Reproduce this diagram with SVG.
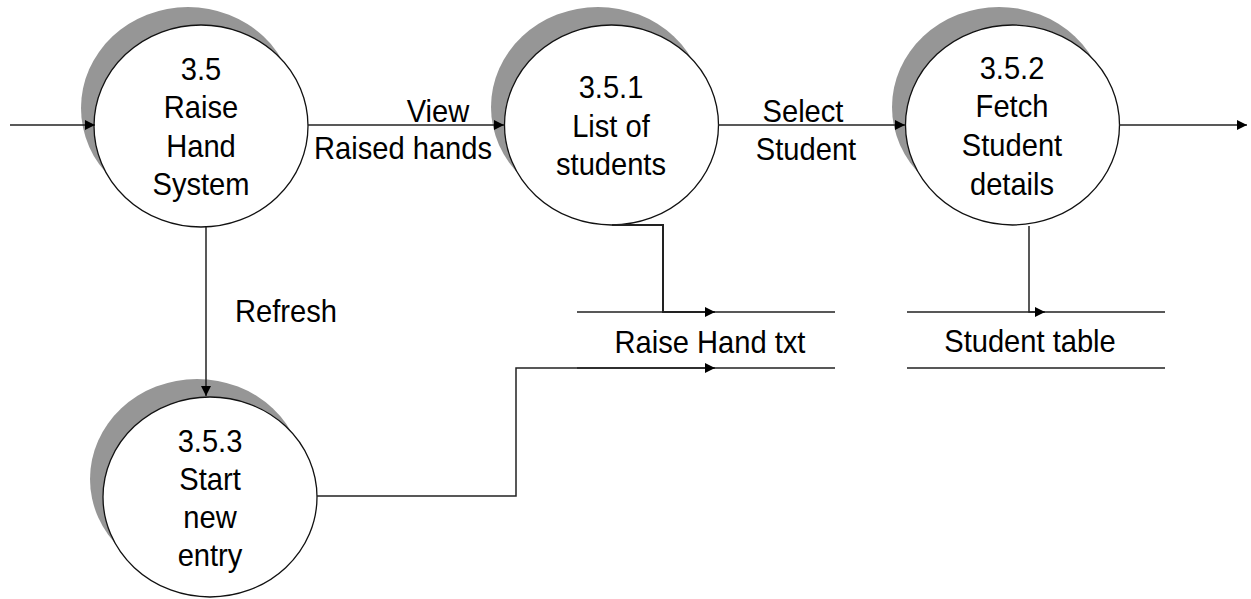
<svg xmlns="http://www.w3.org/2000/svg" width="1251" height="599" viewBox="0 0 1251 599">
<style>
.sh{fill:#969696;stroke:none}
.bub{fill:#fff;stroke:#111;stroke-width:1.3}
.t{font-family:"Liberation Sans",Arial,sans-serif;font-size:32px;fill:#000;text-anchor:middle}
.ln{fill:none;stroke:#222;stroke-width:1.5}
.st{fill:none;stroke:#222;stroke-width:1.5}
</style>
<defs>
<marker id="ah" markerUnits="userSpaceOnUse" markerWidth="12" markerHeight="12" refX="10" refY="5" orient="auto">
<path d="M0,0 L10,5 L0,10 Z" fill="#000"/>
</marker>
</defs>
<rect width="1251" height="599" fill="#fff"/>

<g id="store-raise-hand">
<path class="st" d="M577,312 H835 M577,368 H835"/>
<text class="t" transform="translate(710,0) scale(0.91,1)" x="0" y="353">Raise Hand txt</text>
</g>

<g id="store-student">
<path class="st" d="M907,312 H1165 M907,368 H1165"/>
<text class="t" transform="translate(1030,0) scale(0.91,1)" x="0" y="352">Student table</text>
</g>

<g id="p35">
<ellipse class="sh" cx="188" cy="108" rx="107" ry="101"/>
<ellipse class="bub" cx="201" cy="126" rx="107" ry="101"/>
<text class="t" transform="translate(201,0) scale(0.91,1)">
<tspan x="0" y="80">3.5</tspan><tspan x="0" y="118.5">Raise</tspan><tspan x="0" y="157">Hand</tspan><tspan x="0" y="195">System</tspan>
</text>
</g>

<g id="p351">
<ellipse class="sh" cx="598" cy="107" rx="107" ry="100"/>
<ellipse class="bub" cx="611.5" cy="125" rx="107" ry="100"/>
<text class="t" transform="translate(611,0) scale(0.91,1)">
<tspan x="0" y="98">3.5.1</tspan><tspan x="0" y="137">List of</tspan><tspan x="0" y="175.5">students</tspan>
</text>
</g>

<g id="p352">
<ellipse class="sh" cx="999" cy="107" rx="107" ry="100"/>
<ellipse class="bub" cx="1012.5" cy="125" rx="107" ry="100"/>
<text class="t" transform="translate(1012,0) scale(0.91,1)">
<tspan x="0" y="79">3.5.2</tspan><tspan x="0" y="117.5">Fetch</tspan><tspan x="0" y="156.5">Student</tspan><tspan x="0" y="195">details</tspan>
</text>
</g>

<g id="p353">
<ellipse class="sh" cx="197" cy="479" rx="107" ry="100"/>
<ellipse class="bub" cx="210" cy="497" rx="107" ry="100"/>
<text class="t" transform="translate(210,0) scale(0.91,1)">
<tspan x="0" y="452">3.5.3</tspan><tspan x="0" y="490.5">Start</tspan><tspan x="0" y="528.5">new</tspan><tspan x="0" y="566">entry</tspan>
</text>
</g>

<g id="connectors">
<path class="ln" d="M10,125 H95" marker-end="url(#ah)"/>
<path class="ln" d="M308,125 H504" marker-end="url(#ah)"/>
<path class="ln" d="M718,125 H905" marker-end="url(#ah)"/>
<path class="ln" d="M1119,125 H1247" marker-end="url(#ah)"/>
<path class="ln" d="M206,227 V396" marker-end="url(#ah)"/>
<path class="ln" d="M612,225 H663 V312 H715" marker-end="url(#ah)" style="stroke-width:2"/>
<path class="ln" d="M1029,226 V312 H1045" marker-end="url(#ah)"/>
<path class="ln" d="M317,496 H516 V368 H715" marker-end="url(#ah)"/>
<g class="t">
<text transform="translate(438,0) scale(0.91,1)" x="0" y="122">View</text>
<text transform="translate(403,0) scale(0.91,1)" x="0" y="159">Raised hands</text>
<text transform="translate(803,0) scale(0.91,1)" x="0" y="122">Select</text>
<text transform="translate(806,0) scale(0.91,1)" x="0" y="160">Student</text>
<text transform="translate(286,0) scale(0.91,1)" x="0" y="322">Refresh</text>
</g>
</g>
</svg>
